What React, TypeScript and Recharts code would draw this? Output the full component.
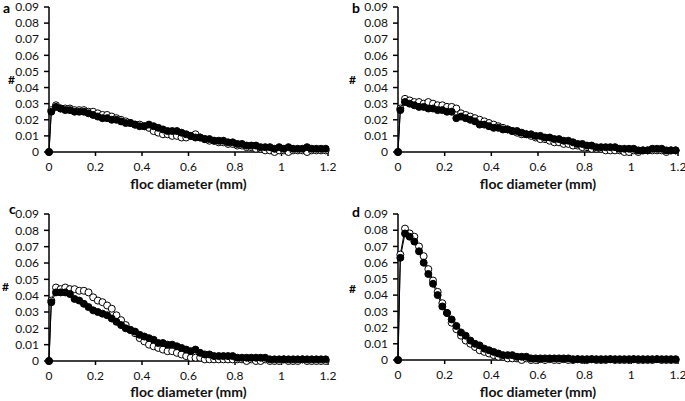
import { LineChart, Line, XAxis, YAxis } from "recharts";

// floc diameter (mm), shared by all four panels
const diameters = [
  0, 0.01, 0.03, 0.05, 0.07, 0.09, 0.11, 0.13, 0.15, 0.17,
  0.19, 0.21, 0.23, 0.25, 0.27, 0.29, 0.31, 0.33, 0.35, 0.37,
  0.39, 0.41, 0.43, 0.45, 0.47, 0.49, 0.51, 0.53, 0.55, 0.57,
  0.59, 0.61, 0.63, 0.65, 0.67, 0.69, 0.71, 0.73, 0.75, 0.77,
  0.79, 0.81, 0.83, 0.85, 0.87, 0.89, 0.91, 0.93, 0.95, 0.97,
  0.99, 1.01, 1.03, 1.05, 1.07, 1.09, 1.11, 1.13, 1.15, 1.17,
  1.19,
];

const filledA = [
  0, 0.025, 0.028, 0.027, 0.026, 0.026, 0.025, 0.025, 0.025, 0.024,
  0.023, 0.022, 0.021, 0.021, 0.02, 0.02, 0.019, 0.018, 0.018, 0.017,
  0.016, 0.016, 0.017, 0.016, 0.015, 0.014, 0.013, 0.013, 0.013, 0.012,
  0.011, 0.01, 0.009, 0.009, 0.008, 0.008, 0.007, 0.007, 0.007, 0.006,
  0.006, 0.005, 0.005, 0.004, 0.004, 0.004, 0.003, 0.003, 0.003, 0.002,
  0.003, 0.002, 0.003, 0.002, 0.002, 0.002, 0.003, 0.002, 0.002, 0.002,
  0.002,
];
const openA = [
  0, 0.026, 0.029, 0.027, 0.027, 0.027, 0.026, 0.026, 0.026, 0.025,
  0.025, 0.024, 0.023, 0.023, 0.022, 0.021, 0.02, 0.019, 0.018, 0.017,
  0.017, 0.016, 0.015, 0.013, 0.012, 0.011, 0.011, 0.01, 0.01, 0.009,
  0.009, 0.01, 0.011, 0.009, 0.008, 0.007, 0.007, 0.006, 0.006, 0.005,
  0.005, 0.004, 0.004, 0.003, 0.003, 0.002, 0.002, 0.001, 0.001, 0,
  0.001, 0.001, 0, 0.001, 0.001, 0.001, 0, 0.001, 0.001, 0.001,
  0.001,
];

const filledB = [
  0, 0.026, 0.031, 0.03, 0.029, 0.028, 0.028, 0.027, 0.027, 0.026,
  0.026, 0.025, 0.025, 0.021, 0.022, 0.021, 0.02, 0.019, 0.017, 0.017,
  0.016, 0.015, 0.015, 0.014, 0.014, 0.013, 0.013, 0.012, 0.011, 0.011,
  0.01, 0.01, 0.009, 0.009, 0.008, 0.008, 0.007, 0.007, 0.006, 0.005,
  0.005, 0.004, 0.004, 0.003, 0.003, 0.003, 0.003, 0.003, 0.002, 0.002,
  0.002, 0.002, 0.001, 0.001, 0.001, 0.002, 0.002, 0.002, 0.001, 0.001,
  0.001,
];
const openB = [
  0, 0.027, 0.033, 0.032, 0.031, 0.031, 0.03, 0.031, 0.03, 0.029,
  0.029, 0.028, 0.028, 0.027, 0.024, 0.023, 0.022, 0.021, 0.02, 0.019,
  0.018, 0.017, 0.016, 0.015, 0.014, 0.013, 0.012, 0.011, 0.011, 0.01,
  0.009, 0.008, 0.008, 0.007, 0.006, 0.006, 0.005, 0.005, 0.004, 0.004,
  0.003, 0.003, 0.002, 0.002, 0.002, 0.001, 0.001, 0.001, 0.001, 0,
  0, 0.001, 0, 0.001, 0.001, 0.001, 0.001, 0.001, 0, 0.001,
  0.001,
];

const filledC = [
  0, 0.036, 0.042, 0.042, 0.042, 0.041, 0.038, 0.037, 0.035, 0.033,
  0.031, 0.03, 0.029, 0.028, 0.026, 0.024, 0.022, 0.02, 0.019, 0.018,
  0.016, 0.015, 0.014, 0.013, 0.011, 0.011, 0.01, 0.01, 0.009, 0.008,
  0.007, 0.006, 0.007, 0.005, 0.004, 0.004, 0.003, 0.003, 0.003, 0.003,
  0.003, 0.002, 0.002, 0.002, 0.002, 0.002, 0.002, 0.002, 0.001, 0.001,
  0.001, 0.001, 0.001, 0.001, 0.001, 0.001, 0.001, 0.001, 0.001, 0.001,
  0.001,
];
const openC = [
  0, 0.037, 0.045, 0.044, 0.045, 0.044, 0.044, 0.043, 0.043, 0.042,
  0.039, 0.037, 0.036, 0.034, 0.032, 0.028, 0.025, 0.022, 0.019, 0.017,
  0.014, 0.012, 0.01, 0.009, 0.008, 0.007, 0.006, 0.006, 0.005, 0.004,
  0.003, 0.002, 0.002, 0.002, 0.001, 0.001, 0.001, 0.001, 0.001, 0.001,
  0.001, 0.001, 0.001, 0, 0.001, 0, 0, 0.001, 0, 0,
  0, 0.001, 0, 0, 0, 0.001, 0, 0, 0, 0,
  0,
];

const filledD = [
  0, 0.063, 0.078, 0.076, 0.073, 0.067, 0.06, 0.053, 0.047, 0.04,
  0.033, 0.029, 0.025, 0.021, 0.017, 0.015, 0.012, 0.01, 0.009, 0.007,
  0.006, 0.005, 0.004, 0.003, 0.003, 0.003, 0.002, 0.002, 0.002, 0.001,
  0.001, 0.001, 0.001, 0.001, 0.001, 0.001, 0.001, 0.001, 0.0005, 0.0005,
  0.0005, 0.0005, 0.0005, 0.0005, 0.0005, 0.0005, 0.0005, 0.0005, 0.0005, 0.0005,
  0.0005, 0.0005, 0.0005, 0.0005, 0.0005, 0.0005, 0.0005, 0.0005, 0.0005, 0.0005,
  0.0005,
];
const openD = [
  0, 0.065, 0.081, 0.078, 0.076, 0.07, 0.064, 0.056, 0.049, 0.042,
  0.035, 0.029, 0.023, 0.019, 0.015, 0.012, 0.01, 0.008, 0.006, 0.005,
  0.004, 0.003, 0.002, 0.002, 0.001, 0.001, 0.001, 0, 0.001, 0,
  0, 0.0005, 0, 0.0005, 0, 0, 0.0005, 0, 0, 0.0005,
  0, 0, 0.0005, 0, 0, 0, 0.0005, 0, 0, 0,
  0, 0.0005, 0, 0, 0, 0, 0.0005, 0, 0, 0,
  0,
];

const xTicks = [0, 0.2, 0.4, 0.6, 0.8, 1, 1.2];
const yTicks = [0, 0.01, 0.02, 0.03, 0.04, 0.05, 0.06, 0.07, 0.08, 0.09];

const FONT = "Lato, 'Open Sans', sans-serif";

function buildRows(open: number[], filled: number[]) {
  return diameters.map((d, i) => ({ d, open: open[i], filled: filled[i] }));
}

interface PanelProps {
  open: number[];
  filled: number[];
  left: number;
  top: number;
  width: number;
  height: number;
  axisWidth: number;
  marginTop: number;
  marginRight: number;
  xAxisHeight: number;
  titleOffset: number;
}

function Panel(p: PanelProps) {
  const rows = buildRows(p.open, p.filled);
  const tick = { fill: "#111", fontSize: 12, fontFamily: FONT };
  return (
    <div style={{ position: "absolute", left: p.left, top: p.top }}>
      <LineChart
        width={p.width}
        height={p.height}
        data={rows}
        margin={{ top: p.marginTop, right: p.marginRight, left: 0, bottom: 0 }}
      >
        <XAxis
          type="number"
          dataKey="d"
          domain={[0, 1.2]}
          ticks={xTicks}
          interval={0}
          height={p.xAxisHeight}
          stroke="#000"
          strokeWidth={1.5}
          tickSize={4}
          tickMargin={6}
          tick={tick}
          tickFormatter={(v: number) => String(Number(v.toFixed(1)))}
          label={{
            value: "floc diameter (mm)",
            position: "insideBottom",
            offset: p.titleOffset,
            style: { fill: "#111", fontSize: 14, fontWeight: 700, fontFamily: FONT },
          }}
        />
        <YAxis
          type="number"
          domain={[0, 0.09]}
          ticks={yTicks}
          interval={0}
          width={p.axisWidth}
          stroke="#000"
          strokeWidth={1.5}
          tickSize={5}
          tickMargin={5}
          tick={tick}
          tickFormatter={(v: number) => (v === 0 ? "0" : v.toFixed(2))}
        />
        <Line
          dataKey="open"
          stroke="#000"
          strokeWidth={1}
          dot={{ r: 3.5, fill: "#fff", stroke: "#000", strokeWidth: 1 }}
          activeDot={false}
          isAnimationActive={false}
        />
        <Line
          dataKey="filled"
          stroke="#000"
          strokeWidth={1}
          dot={{ r: 3.5, fill: "#000", stroke: "#000", strokeWidth: 1 }}
          activeDot={false}
          isAnimationActive={false}
        />
      </LineChart>
    </div>
  );
}

export default function App() {
  const letterStyle = { fontFamily: FONT, fontWeight: 700, fontSize: 14, fill: "#000" };
  const hashStyle = { fontFamily: FONT, fontWeight: 700, fontSize: 12, fill: "#000" };
  return (
    <div
      style={{
        position: "absolute",
        left: 0,
        top: 0,
        width: 685,
        height: 401,
        background: "#fff",
        overflow: "hidden",
      }}
    >
      <Panel open={openA} filled={filledA} left={0} top={0} width={340} height={200}
        axisWidth={49} marginTop={7} marginRight={12} xAxisHeight={48} titleOffset={11} />
      <Panel open={openB} filled={filledB} left={340} top={0} width={345} height={200}
        axisWidth={58} marginTop={7} marginRight={7} xAxisHeight={48} titleOffset={11} />
      <Panel open={openC} filled={filledC} left={0} top={200} width={340} height={201}
        axisWidth={49} marginTop={14} marginRight={12} xAxisHeight={40} titleOffset={4} />
      <Panel open={openD} filled={filledD} left={340} top={200} width={345} height={201}
        axisWidth={58} marginTop={14} marginRight={7} xAxisHeight={41} titleOffset={4} />
      <svg width={685} height={401} style={{ position: "absolute", left: 0, top: 0, pointerEvents: "none" }}>
        <text x={3} y={13} style={letterStyle}>a</text>
        <text x={352} y={13} style={letterStyle}>b</text>
        <text x={9} y={214} style={letterStyle}>c</text>
        <text x={352} y={217} style={letterStyle}>d</text>
        <text x={8} y={84} style={hashStyle}>#</text>
        <text x={349} y={84} style={hashStyle}>#</text>
        <text x={2} y={291} style={hashStyle}>#</text>
        <text x={349} y={293} style={hashStyle}>#</text>
      </svg>
    </div>
  );
}
